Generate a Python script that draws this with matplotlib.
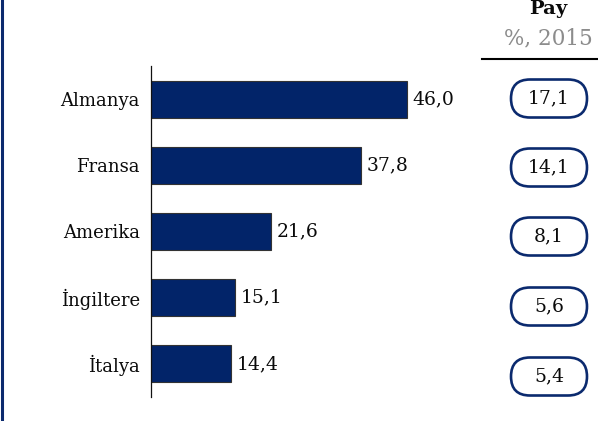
import matplotlib
matplotlib.use("Agg")
import matplotlib.pyplot as plt
from matplotlib.patches import FancyBboxPatch
from matplotlib.lines import Line2D

plt.rcParams['font.family'] = ['DejaVu Serif']

# veriler
ulkeler = ['Almanya', 'Fransa', 'Amerika', 'İngiltere', 'İtalya']
degerler = [46.0, 37.8, 21.6, 15.1, 14.4]
paylar = [17.1, 14.1, 8.1, 5.6, 5.4]

lacivert = '#022469'
W, H = 598, 421

fig = plt.figure(figsize=(W / 100, H / 100), dpi=100, facecolor='white')

# ana grafik
ax = fig.add_axes([151 / W, 24 / H, 319 / W, 331 / H])
y = list(range(len(ulkeler)))
bars = ax.barh(y, degerler, height=0.56, color=lacivert, edgecolor='#333333', linewidth=0.8)
ax.set_ylim(4.5, -0.5)
ax.set_xlim(0, 319 / 5.565)
ax.set_yticks(y)
ax.set_yticklabels(ulkeler, fontsize=13, color='#0a0a0a')
ax.tick_params(axis='y', length=0, pad=8)
ax.set_xticks([])
for s in ['top', 'right', 'bottom']:
    ax.spines[s].set_visible(False)
ax.spines['left'].set_linewidth(0.9)
ax.spines['left'].set_color('#111111')

for b, v in zip(bars, degerler):
    ax.text(b.get_width() + 1.0, b.get_y() + b.get_height() / 2,
            f'{v:.1f}'.replace('.', ','), va='center', ha='left',
            fontsize=13.5, color='#0a0a0a')

# sag kolon (piksel koordinatli katman)
ov = fig.add_axes([0, 0, 1, 1], zorder=-1)
ov.set_xlim(0, W)
ov.set_ylim(H, 0)
ov.axis('off')

ov.add_line(Line2D([1.5, 1.5], [0, H], color='#0b2a6e', linewidth=2.2))
ov.add_line(Line2D([482, W], [59, 59], color='black', linewidth=1.5))
ov.text(548, 9, 'Pay', ha='center', va='center', fontsize=14, fontweight='bold', color='#0a0a0a')
ov.text(548, 38, '%, 2015', ha='center', va='center', fontsize=15.5, color='#8c8c8c')

pill_y = [98.5, 167.5, 236.5, 306.5, 376.5]
pw, ph = 76, 38
for py, p in zip(pill_y, paylar):
    box = FancyBboxPatch((549 - pw / 2, py - ph / 2), pw, ph,
                         boxstyle=f'round,pad=0,rounding_size={ph / 2}',
                         facecolor='white', edgecolor='#0b2a6e', linewidth=1.9)
    ov.add_patch(box)
    ov.text(549, py, f'{p:.1f}'.replace('.', ','), ha='center', va='center',
            fontsize=13.5, color='#0a0a0a')

fig.savefig('out.png', dpi=100, facecolor='white')
